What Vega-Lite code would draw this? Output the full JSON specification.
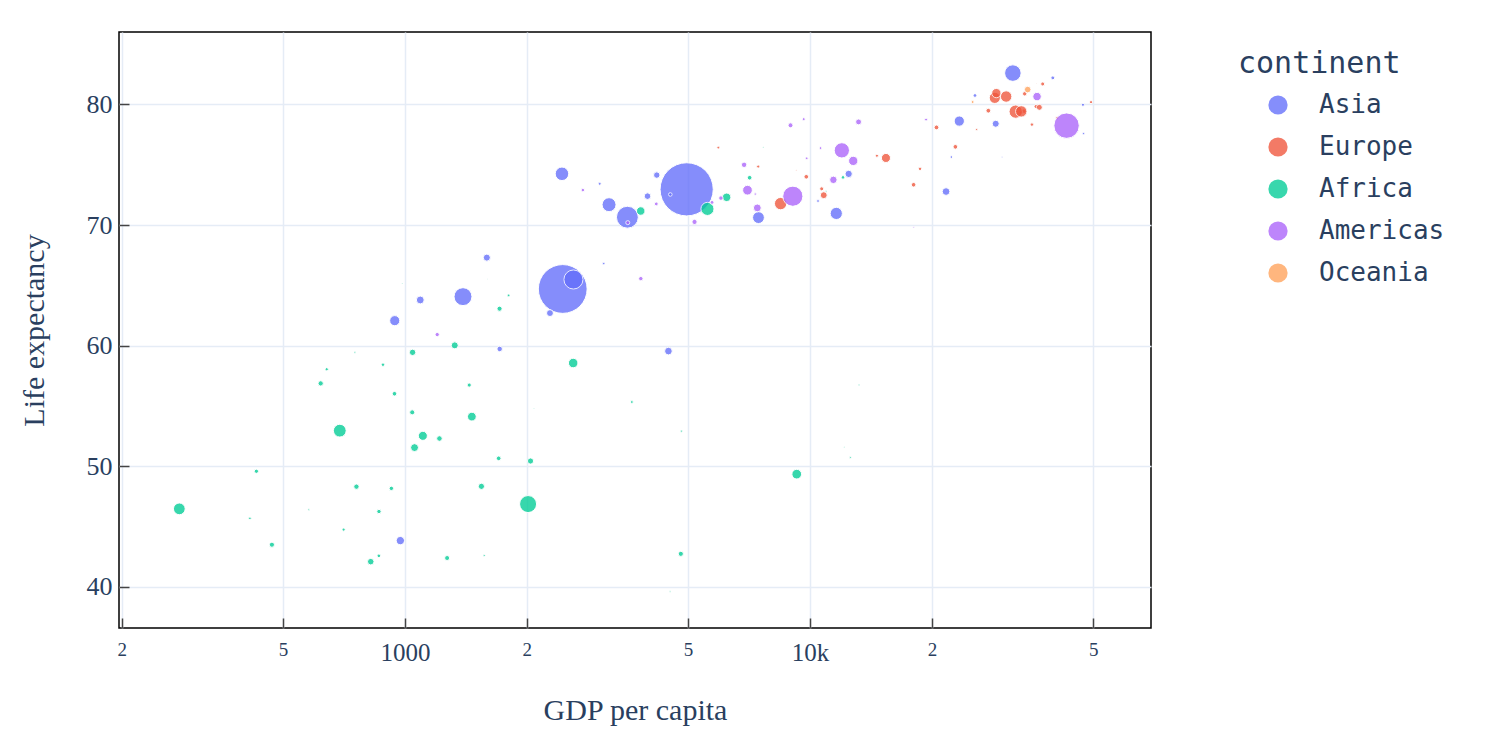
{
  "$schema": "https://vega.github.io/schema/vega-lite/v6.json",
  "autosize": {"type": "none"},
  "padding": {"left": 119, "top": 32, "right": 335, "bottom": 126},
  "width": 1032,
  "height": 596,
  "background": "white",
  "config": {
    "view": {"stroke": "#000000", "strokeWidth": 1.5},
    "axis": {
      "domain": false,
      "grid": true,
      "gridColor": "#e5ecf6",
      "gridWidth": 1.5,
      "tickColor": "#444444",
      "tickWidth": 1.5,
      "tickSize": -10,
      "labelColor": "#2a3f5f",
      "titleColor": "#2a3f5f",
      "labelFont": "Liberation Serif",
      "titleFont": "Liberation Serif",
      "titleFontWeight": "normal",
      "titleFontSize": 30
    },
    "legend": {
      "titleFont": "DejaVu Sans Mono",
      "titleFontSize": 30,
      "titleFontWeight": "normal",
      "titleColor": "#2a3f5f",
      "labelFont": "DejaVu Sans Mono",
      "labelFontSize": 26,
      "labelColor": "#2a3f5f"
    }
  },
  "data": {
    "values": [
      {"country": "Afghanistan", "continent": "Asia", "gdpPercap": 974.58, "lifeExp": 43.828, "pop": 31889923},
      {"country": "Bahrain", "continent": "Asia", "gdpPercap": 29796.05, "lifeExp": 75.635, "pop": 708573},
      {"country": "Bangladesh", "continent": "Asia", "gdpPercap": 1391.25, "lifeExp": 64.062, "pop": 150448339},
      {"country": "Cambodia", "continent": "Asia", "gdpPercap": 1713.78, "lifeExp": 59.723, "pop": 14131858},
      {"country": "China", "continent": "Asia", "gdpPercap": 4959.11, "lifeExp": 72.961, "pop": 1318683096},
      {"country": "Hong Kong, China", "continent": "Asia", "gdpPercap": 39724.98, "lifeExp": 82.208, "pop": 6980412},
      {"country": "India", "continent": "Asia", "gdpPercap": 2452.21, "lifeExp": 64.698, "pop": 1110396331},
      {"country": "Indonesia", "continent": "Asia", "gdpPercap": 3540.65, "lifeExp": 70.65, "pop": 223547000},
      {"country": "Iran", "continent": "Asia", "gdpPercap": 11605.71, "lifeExp": 70.964, "pop": 69453570},
      {"country": "Iraq", "continent": "Asia", "gdpPercap": 4471.06, "lifeExp": 59.545, "pop": 27499638},
      {"country": "Israel", "continent": "Asia", "gdpPercap": 25523.28, "lifeExp": 80.745, "pop": 6426679},
      {"country": "Japan", "continent": "Asia", "gdpPercap": 31656.07, "lifeExp": 82.603, "pop": 127467972},
      {"country": "Jordan", "continent": "Asia", "gdpPercap": 4519.46, "lifeExp": 72.535, "pop": 6053193},
      {"country": "Korea, Dem. Rep.", "continent": "Asia", "gdpPercap": 1593.07, "lifeExp": 67.297, "pop": 23301725},
      {"country": "Korea, Rep.", "continent": "Asia", "gdpPercap": 23348.14, "lifeExp": 78.623, "pop": 49044790},
      {"country": "Kuwait", "continent": "Asia", "gdpPercap": 47306.99, "lifeExp": 77.588, "pop": 2505559},
      {"country": "Lebanon", "continent": "Asia", "gdpPercap": 10461.06, "lifeExp": 71.993, "pop": 3921278},
      {"country": "Malaysia", "continent": "Asia", "gdpPercap": 12451.66, "lifeExp": 74.241, "pop": 24821286},
      {"country": "Mongolia", "continent": "Asia", "gdpPercap": 3095.77, "lifeExp": 66.803, "pop": 2874127},
      {"country": "Myanmar", "continent": "Asia", "gdpPercap": 944.0, "lifeExp": 62.069, "pop": 47761980},
      {"country": "Nepal", "continent": "Asia", "gdpPercap": 1091.36, "lifeExp": 63.785, "pop": 28901790},
      {"country": "Oman", "continent": "Asia", "gdpPercap": 22316.19, "lifeExp": 75.64, "pop": 3204897},
      {"country": "Pakistan", "continent": "Asia", "gdpPercap": 2605.95, "lifeExp": 65.483, "pop": 169270617},
      {"country": "Philippines", "continent": "Asia", "gdpPercap": 3190.48, "lifeExp": 71.688, "pop": 91077287},
      {"country": "Saudi Arabia", "continent": "Asia", "gdpPercap": 21654.83, "lifeExp": 72.777, "pop": 27601038},
      {"country": "Singapore", "continent": "Asia", "gdpPercap": 47143.18, "lifeExp": 79.972, "pop": 4553009},
      {"country": "Sri Lanka", "continent": "Asia", "gdpPercap": 3970.1, "lifeExp": 72.396, "pop": 20378239},
      {"country": "Syria", "continent": "Asia", "gdpPercap": 4184.55, "lifeExp": 74.143, "pop": 19314747},
      {"country": "Taiwan", "continent": "Asia", "gdpPercap": 28718.28, "lifeExp": 78.4, "pop": 23174294},
      {"country": "Thailand", "continent": "Asia", "gdpPercap": 7458.4, "lifeExp": 70.616, "pop": 65068149},
      {"country": "Vietnam", "continent": "Asia", "gdpPercap": 2441.58, "lifeExp": 74.249, "pop": 85262356},
      {"country": "West Bank and Gaza", "continent": "Asia", "gdpPercap": 3025.35, "lifeExp": 73.422, "pop": 4018332},
      {"country": "Yemen, Rep.", "continent": "Asia", "gdpPercap": 2280.77, "lifeExp": 62.698, "pop": 22211743},
      {"country": "Albania", "continent": "Europe", "gdpPercap": 5937.03, "lifeExp": 76.423, "pop": 3600523},
      {"country": "Austria", "continent": "Europe", "gdpPercap": 36126.49, "lifeExp": 79.829, "pop": 8199783},
      {"country": "Belgium", "continent": "Europe", "gdpPercap": 33692.61, "lifeExp": 79.441, "pop": 10392226},
      {"country": "Bosnia and Herzegovina", "continent": "Europe", "gdpPercap": 7446.3, "lifeExp": 74.852, "pop": 4552198},
      {"country": "Bulgaria", "continent": "Europe", "gdpPercap": 10680.79, "lifeExp": 73.005, "pop": 7322858},
      {"country": "Croatia", "continent": "Europe", "gdpPercap": 14619.22, "lifeExp": 75.748, "pop": 4493312},
      {"country": "Czech Republic", "continent": "Europe", "gdpPercap": 22833.31, "lifeExp": 76.486, "pop": 10228744},
      {"country": "Denmark", "continent": "Europe", "gdpPercap": 35278.42, "lifeExp": 78.332, "pop": 5468120},
      {"country": "Finland", "continent": "Europe", "gdpPercap": 33207.08, "lifeExp": 79.313, "pop": 5238460},
      {"country": "France", "continent": "Europe", "gdpPercap": 30470.02, "lifeExp": 80.657, "pop": 61083916},
      {"country": "Germany", "continent": "Europe", "gdpPercap": 32170.37, "lifeExp": 79.406, "pop": 82400996},
      {"country": "Greece", "continent": "Europe", "gdpPercap": 27538.41, "lifeExp": 79.483, "pop": 10706290},
      {"country": "Hungary", "continent": "Europe", "gdpPercap": 18008.94, "lifeExp": 73.338, "pop": 9956108},
      {"country": "Iceland", "continent": "Europe", "gdpPercap": 36180.79, "lifeExp": 81.757, "pop": 301931},
      {"country": "Ireland", "continent": "Europe", "gdpPercap": 40676.0, "lifeExp": 78.885, "pop": 4109086},
      {"country": "Italy", "continent": "Europe", "gdpPercap": 28569.72, "lifeExp": 80.546, "pop": 58147733},
      {"country": "Montenegro", "continent": "Europe", "gdpPercap": 9253.9, "lifeExp": 74.543, "pop": 684736},
      {"country": "Netherlands", "continent": "Europe", "gdpPercap": 36797.93, "lifeExp": 79.762, "pop": 16570613},
      {"country": "Norway", "continent": "Europe", "gdpPercap": 49357.19, "lifeExp": 80.196, "pop": 4627926},
      {"country": "Poland", "continent": "Europe", "gdpPercap": 15389.92, "lifeExp": 75.563, "pop": 38518241},
      {"country": "Portugal", "continent": "Europe", "gdpPercap": 20509.65, "lifeExp": 78.098, "pop": 10642836},
      {"country": "Romania", "continent": "Europe", "gdpPercap": 10808.48, "lifeExp": 72.476, "pop": 22276056},
      {"country": "Serbia", "continent": "Europe", "gdpPercap": 9786.53, "lifeExp": 74.002, "pop": 10150265},
      {"country": "Slovak Republic", "continent": "Europe", "gdpPercap": 18678.31, "lifeExp": 74.663, "pop": 5447502},
      {"country": "Slovenia", "continent": "Europe", "gdpPercap": 25768.26, "lifeExp": 77.926, "pop": 2009245},
      {"country": "Spain", "continent": "Europe", "gdpPercap": 28821.06, "lifeExp": 80.941, "pop": 40448191},
      {"country": "Sweden", "continent": "Europe", "gdpPercap": 33859.75, "lifeExp": 80.884, "pop": 9031088},
      {"country": "Switzerland", "continent": "Europe", "gdpPercap": 37506.42, "lifeExp": 81.701, "pop": 7554661},
      {"country": "Turkey", "continent": "Europe", "gdpPercap": 8458.28, "lifeExp": 71.777, "pop": 71158647},
      {"country": "United Kingdom", "continent": "Europe", "gdpPercap": 33203.26, "lifeExp": 79.425, "pop": 60776238},
      {"country": "Algeria", "continent": "Africa", "gdpPercap": 6223.37, "lifeExp": 72.301, "pop": 33333216},
      {"country": "Angola", "continent": "Africa", "gdpPercap": 4797.23, "lifeExp": 42.731, "pop": 12420476},
      {"country": "Benin", "continent": "Africa", "gdpPercap": 1441.28, "lifeExp": 56.728, "pop": 8078314},
      {"country": "Botswana", "continent": "Africa", "gdpPercap": 12569.85, "lifeExp": 50.728, "pop": 1639131},
      {"country": "Burkina Faso", "continent": "Africa", "gdpPercap": 1217.03, "lifeExp": 52.295, "pop": 14326203},
      {"country": "Burundi", "continent": "Africa", "gdpPercap": 430.07, "lifeExp": 49.58, "pop": 8390505},
      {"country": "Cameroon", "continent": "Africa", "gdpPercap": 2042.1, "lifeExp": 50.43, "pop": 17696293},
      {"country": "Central African Republic", "continent": "Africa", "gdpPercap": 706.02, "lifeExp": 44.741, "pop": 4369038},
      {"country": "Chad", "continent": "Africa", "gdpPercap": 1704.06, "lifeExp": 50.651, "pop": 10238807},
      {"country": "Comoros", "continent": "Africa", "gdpPercap": 986.15, "lifeExp": 65.152, "pop": 710960},
      {"country": "Congo, Dem. Rep.", "continent": "Africa", "gdpPercap": 277.55, "lifeExp": 46.462, "pop": 64606759},
      {"country": "Congo, Rep.", "continent": "Africa", "gdpPercap": 3632.56, "lifeExp": 55.322, "pop": 3800610},
      {"country": "Cote d'Ivoire", "continent": "Africa", "gdpPercap": 1544.75, "lifeExp": 48.328, "pop": 18013409},
      {"country": "Djibouti", "continent": "Africa", "gdpPercap": 2082.48, "lifeExp": 54.791, "pop": 496374},
      {"country": "Egypt", "continent": "Africa", "gdpPercap": 5581.18, "lifeExp": 71.338, "pop": 80264543},
      {"country": "Equatorial Guinea", "continent": "Africa", "gdpPercap": 12154.09, "lifeExp": 51.579, "pop": 551201},
      {"country": "Eritrea", "continent": "Africa", "gdpPercap": 641.37, "lifeExp": 58.04, "pop": 4906585},
      {"country": "Ethiopia", "continent": "Africa", "gdpPercap": 690.81, "lifeExp": 52.947, "pop": 76511887},
      {"country": "Gabon", "continent": "Africa", "gdpPercap": 13206.48, "lifeExp": 56.735, "pop": 1454867},
      {"country": "Gambia", "continent": "Africa", "gdpPercap": 752.75, "lifeExp": 59.448, "pop": 1688359},
      {"country": "Ghana", "continent": "Africa", "gdpPercap": 1327.61, "lifeExp": 60.022, "pop": 22873338},
      {"country": "Guinea", "continent": "Africa", "gdpPercap": 942.65, "lifeExp": 56.007, "pop": 9947814},
      {"country": "Guinea-Bissau", "continent": "Africa", "gdpPercap": 579.23, "lifeExp": 46.388, "pop": 1472041},
      {"country": "Kenya", "continent": "Africa", "gdpPercap": 1463.25, "lifeExp": 54.11, "pop": 35610177},
      {"country": "Lesotho", "continent": "Africa", "gdpPercap": 1569.33, "lifeExp": 42.592, "pop": 2012649},
      {"country": "Liberia", "continent": "Africa", "gdpPercap": 414.51, "lifeExp": 45.678, "pop": 3193942},
      {"country": "Libya", "continent": "Africa", "gdpPercap": 12057.5, "lifeExp": 73.952, "pop": 6036914},
      {"country": "Madagascar", "continent": "Africa", "gdpPercap": 1044.77, "lifeExp": 59.443, "pop": 19167654},
      {"country": "Malawi", "continent": "Africa", "gdpPercap": 759.35, "lifeExp": 48.303, "pop": 13327079},
      {"country": "Mali", "continent": "Africa", "gdpPercap": 1042.58, "lifeExp": 54.467, "pop": 12031795},
      {"country": "Mauritania", "continent": "Africa", "gdpPercap": 1803.15, "lifeExp": 64.164, "pop": 3270065},
      {"country": "Mauritius", "continent": "Africa", "gdpPercap": 10956.99, "lifeExp": 72.801, "pop": 1250882},
      {"country": "Morocco", "continent": "Africa", "gdpPercap": 3820.18, "lifeExp": 71.164, "pop": 33757175},
      {"country": "Mozambique", "continent": "Africa", "gdpPercap": 823.69, "lifeExp": 42.082, "pop": 19951656},
      {"country": "Namibia", "continent": "Africa", "gdpPercap": 4811.06, "lifeExp": 52.906, "pop": 2055080},
      {"country": "Niger", "continent": "Africa", "gdpPercap": 619.68, "lifeExp": 56.867, "pop": 12894865},
      {"country": "Nigeria", "continent": "Africa", "gdpPercap": 2013.98, "lifeExp": 46.859, "pop": 135031164},
      {"country": "Reunion", "continent": "Africa", "gdpPercap": 7670.12, "lifeExp": 76.442, "pop": 798094},
      {"country": "Rwanda", "continent": "Africa", "gdpPercap": 863.09, "lifeExp": 46.242, "pop": 8860588},
      {"country": "Sao Tome and Principe", "continent": "Africa", "gdpPercap": 1598.44, "lifeExp": 65.528, "pop": 199579},
      {"country": "Senegal", "continent": "Africa", "gdpPercap": 1712.47, "lifeExp": 63.062, "pop": 12267493},
      {"country": "Sierra Leone", "continent": "Africa", "gdpPercap": 862.54, "lifeExp": 42.568, "pop": 6144562},
      {"country": "Somalia", "continent": "Africa", "gdpPercap": 926.14, "lifeExp": 48.159, "pop": 9118773},
      {"country": "South Africa", "continent": "Africa", "gdpPercap": 9269.66, "lifeExp": 49.339, "pop": 43997828},
      {"country": "Sudan", "continent": "Africa", "gdpPercap": 2602.39, "lifeExp": 58.556, "pop": 42292929},
      {"country": "Swaziland", "continent": "Africa", "gdpPercap": 4513.48, "lifeExp": 39.613, "pop": 1133066},
      {"country": "Tanzania", "continent": "Africa", "gdpPercap": 1107.48, "lifeExp": 52.517, "pop": 38139640},
      {"country": "Togo", "continent": "Africa", "gdpPercap": 882.97, "lifeExp": 58.42, "pop": 5701579},
      {"country": "Tunisia", "continent": "Africa", "gdpPercap": 7092.92, "lifeExp": 73.923, "pop": 10276158},
      {"country": "Uganda", "continent": "Africa", "gdpPercap": 1056.38, "lifeExp": 51.542, "pop": 29170398},
      {"country": "Zambia", "continent": "Africa", "gdpPercap": 1271.21, "lifeExp": 42.384, "pop": 11746035},
      {"country": "Zimbabwe", "continent": "Africa", "gdpPercap": 469.71, "lifeExp": 43.487, "pop": 12311143},
      {"country": "Argentina", "continent": "Americas", "gdpPercap": 12779.38, "lifeExp": 75.32, "pop": 40301927},
      {"country": "Bolivia", "continent": "Americas", "gdpPercap": 3822.14, "lifeExp": 65.554, "pop": 9119152},
      {"country": "Brazil", "continent": "Americas", "gdpPercap": 9065.8, "lifeExp": 72.39, "pop": 190010647},
      {"country": "Canada", "continent": "Americas", "gdpPercap": 36319.24, "lifeExp": 80.653, "pop": 33390141},
      {"country": "Chile", "continent": "Americas", "gdpPercap": 13171.64, "lifeExp": 78.553, "pop": 16284741},
      {"country": "Colombia", "continent": "Americas", "gdpPercap": 7006.58, "lifeExp": 72.889, "pop": 44227550},
      {"country": "Costa Rica", "continent": "Americas", "gdpPercap": 9645.06, "lifeExp": 78.782, "pop": 4133884},
      {"country": "Cuba", "continent": "Americas", "gdpPercap": 8948.1, "lifeExp": 78.273, "pop": 11416987},
      {"country": "Dominican Republic", "continent": "Americas", "gdpPercap": 6025.37, "lifeExp": 72.235, "pop": 9319622},
      {"country": "Ecuador", "continent": "Americas", "gdpPercap": 6873.26, "lifeExp": 74.994, "pop": 13755680},
      {"country": "El Salvador", "continent": "Americas", "gdpPercap": 5728.35, "lifeExp": 71.878, "pop": 6939688},
      {"country": "Guatemala", "continent": "Americas", "gdpPercap": 5186.05, "lifeExp": 70.259, "pop": 12572928},
      {"country": "Haiti", "continent": "Americas", "gdpPercap": 1201.64, "lifeExp": 60.916, "pop": 8502814},
      {"country": "Honduras", "continent": "Americas", "gdpPercap": 3548.33, "lifeExp": 70.198, "pop": 7483763},
      {"country": "Jamaica", "continent": "Americas", "gdpPercap": 7320.88, "lifeExp": 72.567, "pop": 2780132},
      {"country": "Mexico", "continent": "Americas", "gdpPercap": 11977.57, "lifeExp": 76.195, "pop": 108700891},
      {"country": "Nicaragua", "continent": "Americas", "gdpPercap": 2749.32, "lifeExp": 72.899, "pop": 5675356},
      {"country": "Panama", "continent": "Americas", "gdpPercap": 9809.19, "lifeExp": 75.537, "pop": 3242173},
      {"country": "Paraguay", "continent": "Americas", "gdpPercap": 4172.84, "lifeExp": 71.752, "pop": 6667147},
      {"country": "Peru", "continent": "Americas", "gdpPercap": 7408.91, "lifeExp": 71.421, "pop": 28674757},
      {"country": "Puerto Rico", "continent": "Americas", "gdpPercap": 19328.71, "lifeExp": 78.746, "pop": 3942491},
      {"country": "Trinidad and Tobago", "continent": "Americas", "gdpPercap": 18008.51, "lifeExp": 69.819, "pop": 1056608},
      {"country": "United States", "continent": "Americas", "gdpPercap": 42951.65, "lifeExp": 78.242, "pop": 301139947},
      {"country": "Uruguay", "continent": "Americas", "gdpPercap": 10611.46, "lifeExp": 76.384, "pop": 3447496},
      {"country": "Venezuela", "continent": "Americas", "gdpPercap": 11415.81, "lifeExp": 73.747, "pop": 26084662},
      {"country": "Australia", "continent": "Oceania", "gdpPercap": 34435.37, "lifeExp": 81.235, "pop": 20434176},
      {"country": "New Zealand", "continent": "Oceania", "gdpPercap": 25185.01, "lifeExp": 80.204, "pop": 4115771}
    ]
  },
  "mark": {"type": "circle", "opacity": 0.78, "stroke": "white", "strokeWidth": 1},
  "encoding": {
    "x": {
      "field": "gdpPercap",
      "type": "quantitative",
      "scale": {"type": "log", "domain": [197, 69400], "nice": false},
      "axis": {
        "title": "GDP per capita",
        "values": [200, 500, 1000, 2000, 5000, 10000, 20000, 50000],
        "labelExpr": "datum.value == 1000 ? '1000' : datum.value == 10000 ? '10k' : substring(toString(datum.value), 0, 1)",
        "labelFontSize": {"condition": {"test": "datum.value == 1000 || datum.value == 10000", "value": 25}, "value": 19},
        "labelBaseline": "top",
        "labelPadding": 22,
        "labelFlush": false,
        "labelOverlap": false,
        "titleBaseline": "alphabetic",
        "titleY": 91
      }
    },
    "y": {
      "field": "lifeExp",
      "type": "quantitative",
      "scale": {"domain": [36.58, 86.01], "nice": false, "zero": false},
      "axis": {
        "title": "Life expectancy",
        "values": [40, 50, 60, 70, 80],
        "labelFontSize": 26,
        "labelPadding": 17,
        "titleAngle": -90,
        "titleX": -76,
        "titleY": 298,
        "titleAlign": "center",
        "titleBaseline": "alphabetic"
      }
    },
    "color": {
      "field": "continent",
      "type": "nominal",
      "scale": {
        "domain": ["Asia", "Europe", "Africa", "Americas", "Oceania"],
        "range": ["#636efa", "#EF553B", "#00cc96", "#ab63fa", "#FFA15A"]
      },
      "legend": {
        "orient": "none",
        "legendX": 1119,
        "legendY": 17,
        "padding": 0,
        "symbolType": "circle",
        "symbolSize": 370,
        "symbolOffset": 27,
        "symbolStrokeWidth": 0,
        "symbolOpacity": 0.78,
        "labelOffset": 28,
        "rowPadding": 16,
        "titlePadding": 13
      }
    },
    "size": {
      "field": "pop",
      "type": "quantitative",
      "scale": {"type": "linear", "domain": [0, 1318683096], "range": [0, 2827], "zero": true},
      "legend": null
    }
  }
}
